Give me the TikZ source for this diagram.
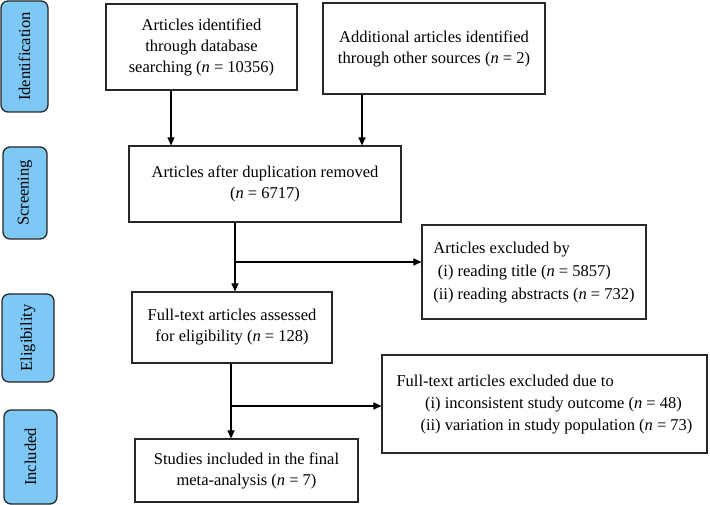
\documentclass[tikz,border=0pt]{standalone}
\usepackage{fontspec}
\setmainfont{Liberation Serif}
\usetikzlibrary{arrows.meta}
\definecolor{sidefill}{RGB}{125,200,245}
\definecolor{edge}{RGB}{40,40,40}
\begin{document}
\begin{tikzpicture}[x=1pt,y=-1pt,
  every node/.style={font=\fontsize{16.5}{21}\selectfont},
  box/.style={draw=edge, line width=1.1pt, inner sep=0pt, align=center},
  side/.style={draw=edge, line width=1.3pt, fill=sidefill, rounded corners=7pt, inner sep=0pt, rotate=90},
  arr/.style={draw=black, line width=1.1pt, -{Triangle[length=8pt,width=7pt]}},
  ln/.style={draw=black, line width=1.1pt}]
\useasboundingbox (0,0) rectangle (710,505);

% stage labels
\node[side, minimum width=111pt, minimum height=47pt] (id) at (24.5,56.5) {Identification};
\node[side, minimum width=92pt, minimum height=44pt] (scr) at (25,193) {Screening};
\node[side, minimum width=88pt, minimum height=52pt] (eli) at (28,338) {Eligibility};
\node[side, minimum width=94pt, minimum height=53pt] (inc) at (30.5,457) {Included};

% main boxes
\node[box, minimum width=191pt, minimum height=86pt] (b1) at (201.5,47)
  {Articles identified\\through database\\searching (\textit{n} = 10356)};
\node[box, minimum width=222pt, minimum height=91pt] (b2) at (434,48.5)
  {Additional articles identified\\through other sources (\textit{n} = 2)};
\node[box, minimum width=272pt, minimum height=76pt] (b3) at (265,184)
  {Articles after duplication removed\\(\textit{n} = 6717)};
\node[box, minimum width=200pt, minimum height=71pt] (b4) at (232,327.5)
  {Full-text articles assessed\\for eligibility (\textit{n} = 128)};
\node[box, minimum width=223pt, minimum height=63pt] (b5) at (246.5,470.5)
  {Studies included in the final\\meta-analysis (\textit{n} = 7)};

% exclusion boxes
\node[box, minimum width=224pt, minimum height=94pt] (e1) at (534,272)
  {\renewcommand\arraystretch{1.08}%
   \begin{tabular}{@{}r@{\ }l@{}}
   \multicolumn{2}{@{}l@{}}{Articles excluded by}\\
   (i) & reading title (\textit{n} = 5857)\\
   (ii) & reading abstracts (\textit{n} = 732)
   \end{tabular}};
\node[box, minimum width=325pt, minimum height=98pt] (e2) at (544.5,404)
  {\raisebox{4pt}{\renewcommand\arraystretch{1.05}%
   \begin{tabular}{@{\hspace{24pt}}r@{\ }l@{}}
   \multicolumn{2}{@{}l@{}}{Full-text articles excluded due to}\\
   (i) & inconsistent study outcome (\textit{n} = 48)\\
   (ii) & variation in study population (\textit{n} = 73)
   \end{tabular}}};

% connectors
\coordinate (a1) at (171,0);
\coordinate (a2) at (362,0);
\coordinate (j1) at (235,262);
\coordinate (j2) at (231,406);
\draw[arr] (a1 |- b1.south) -- (a1 |- b3.north);
\draw[arr] (a2 |- b2.south) -- (a2 |- b3.north);
\draw[arr] (j1 |- b3.south) -- (j1 |- b4.north);
\draw[arr] (j1) -- (j1 -| e1.west);
\draw[arr] (j2 |- b4.south) -- (j2 |- b5.north);
\draw[arr] (j2) -- (j2 -| e2.west);
\end{tikzpicture}
\end{document}
